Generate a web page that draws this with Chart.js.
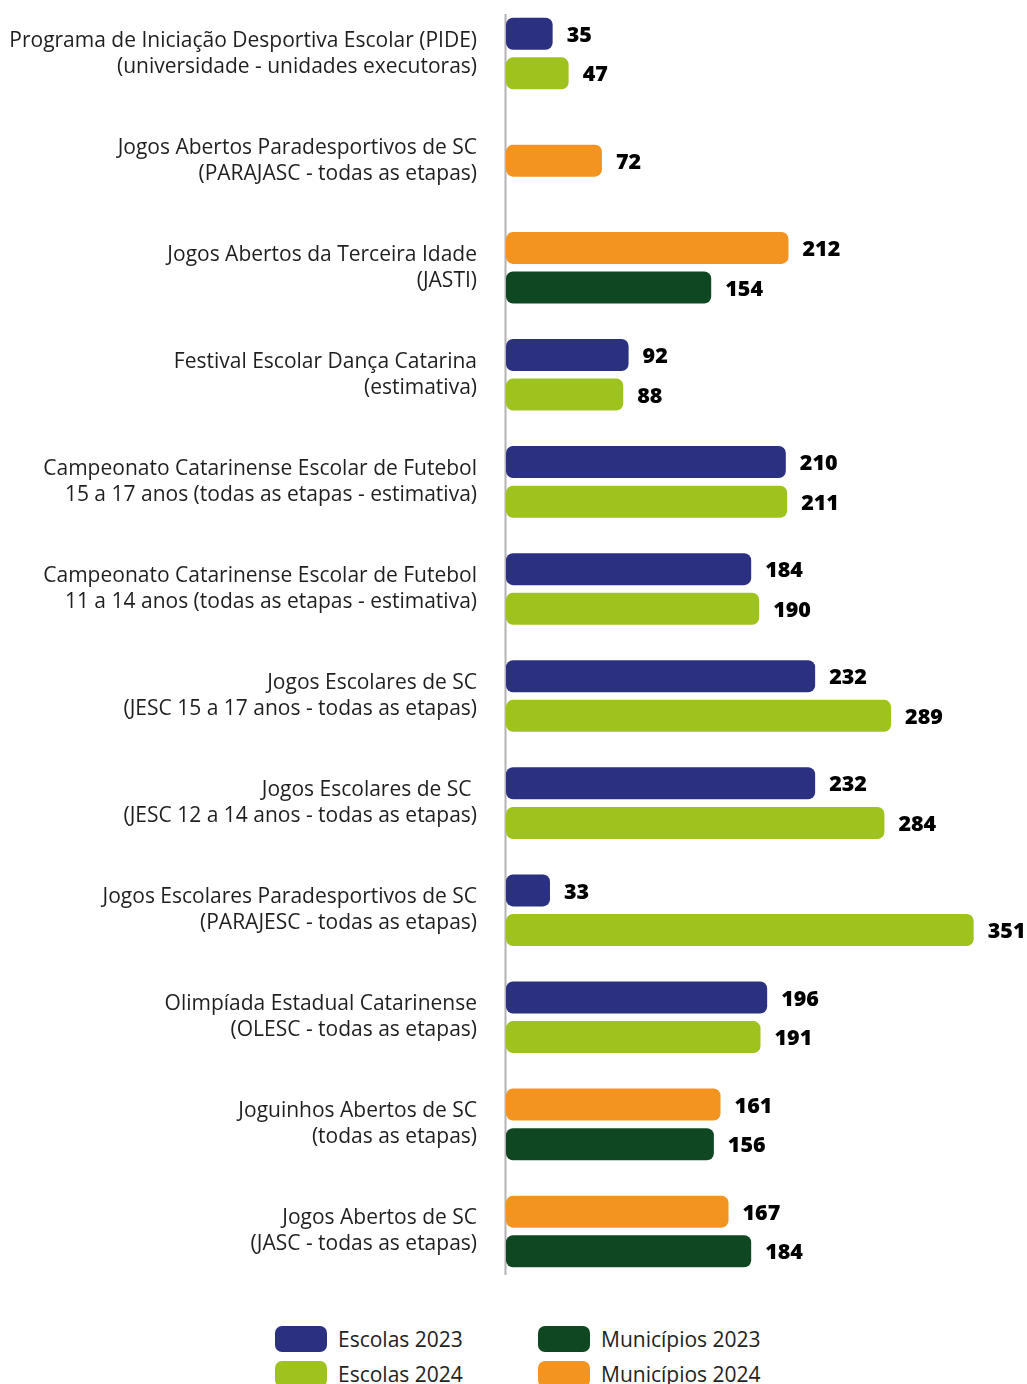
<!DOCTYPE html>
<html>
<head>
<meta charset="utf-8">
<script src="https://cdn.jsdelivr.net/npm/chart.js@4"></script>
<style>
  body { margin: 0; background: #fff; font-family: "Open Sans", sans-serif; }
  #wrap { position: relative; width: 1027px; height: 1285px; }
  #legend {
    margin: 41px 0 0 275px;
    display: grid;
    grid-template-columns: 263px auto;
    row-gap: 9px;
  }
  .item { display: flex; align-items: center; height: 26px; font-size: 21px; color: #222; }
  .box { width: 52px; height: 26px; border-radius: 7px; margin-right: 11px; }
</style>
</head>
<body>
<div id="wrap"><canvas id="myChart"></canvas></div>
<div id="legend"></div>
<script>
//categories (two-line labels)
const categories = [
  ["Programa de Iniciação Desportiva Escolar (PIDE)", "(universidade - unidades executoras)"],
  ["Jogos Abertos Paradesportivos de SC", "(PARAJASC - todas as etapas)"],
  ["Jogos Abertos da Terceira Idade", "(JASTI)"],
  ["Festival Escolar Dança Catarina", "(estimativa)"],
  ["Campeonato Catarinense Escolar de Futebol", "15 a 17 anos (todas as etapas - estimativa)"],
  ["Campeonato Catarinense Escolar de Futebol", "11 a 14 anos (todas as etapas - estimativa)"],
  ["Jogos Escolares de SC", "(JESC 15 a 17 anos - todas as etapas)"],
  ["Jogos Escolares de SC ", "(JESC 12 a 14 anos - todas as etapas)"],
  ["Jogos Escolares Paradesportivos de SC", "(PARAJESC - todas as etapas)"],
  ["Olimpíada Estadual Catarinense", "(OLESC - todas as etapas)"],
  ["Joguinhos Abertos de SC", "(todas as etapas)"],
  ["Jogos Abertos de SC", "(JASC - todas as etapas)"],
];

//series values
const escolas2023 = [35, null, null, 92, 210, 184, 232, 232, 33, 196, null, null];
const escolas2024 = [47, null, null, 88, 211, 190, 289, 284, 351, 191, null, null];
const municipios2024 = [null, 72, 212, null, null, null, null, null, null, null, 161, 167];
const municipios2023 = [null, null, 154, null, null, null, null, null, null, null, 156, 184];

const colors = {
  escolas2023: "#2b3080",
  escolas2024: "#9ec31e",
  municipios2023: "#104723",
  municipios2024: "#f39420",
};

//value labels at bar ends
const barValueLabels = {
  id: "barValueLabels",
  afterDatasetsDraw(chart) {
    const { ctx } = chart;
    ctx.save();
    ctx.font = "800 21.5px 'Open Sans'";
    ctx.fillStyle = "#000";
    ctx.textBaseline = "middle";
    chart.data.datasets.forEach((ds, x) => {
      chart.getDatasetMeta(x).data.forEach((bar, i) => {
        if (ds.data[i] === null) return;
        ctx.fillText(ds.data[i], bar.x + 14, bar.y + 2);
      });
    });
    ctx.restore();
  },
};

//vertical axis line
const axisLine = {
  id: "axisLine",
  beforeDatasetsDraw(chart) {
    const { ctx, chartArea } = chart;
    ctx.save();
    ctx.strokeStyle = "#b3b3b3";
    ctx.lineWidth = 2;
    ctx.beginPath();
    ctx.moveTo(chartArea.left - 0.5, 14);
    ctx.lineTo(chartArea.left - 0.5, 1275);
    ctx.stroke();
    ctx.restore();
  },
};

const barStyle = {
  borderRadius: 7,
  borderSkipped: false,
  categoryPercentage: 0.74,
  barPercentage: 0.81,
  maxBarThickness: 32,
  skipNull: true,
};

var ctx = document.getElementById("myChart").getContext("2d");
var chart = new Chart(ctx, {
  type: "bar",
  data: {
    labels: categories,
    datasets: [
      { label: "Escolas 2023", data: escolas2023, backgroundColor: colors.escolas2023, ...barStyle },
      { label: "Escolas 2024", data: escolas2024, backgroundColor: colors.escolas2024, ...barStyle },
      { label: "Municípios 2024", data: municipios2024, backgroundColor: colors.municipios2024, ...barStyle },
      { label: "Municípios 2023", data: municipios2023, backgroundColor: colors.municipios2023, ...barStyle },
    ],
  },
  options: {
    indexAxis: "y",
    responsive: true,
    maintainAspectRatio: false,
    animation: false,
    layout: { padding: 0 },
    plugins: {
      legend: { display: false },
      tooltip: { enabled: false },
    },
    scales: {
      x: { display: false, min: 0, max: 391 },
      y: {
        afterFit(scale) {
          scale.width = 506;
          scale.paddingTop = 0;
          scale.paddingBottom = 0;
        },
        grid: { display: false, drawTicks: false },
        border: { display: false },
        ticks: {
          padding: 29,
          color: "#1f1f1f",
          font: { family: "Open Sans", size: 21, lineHeight: 1.24 },
        },
      },
    },
  },
  plugins: [axisLine, barValueLabels],
});

//legend (2 x 2 grid)
const legendItems = [
  ["Escolas 2023", colors.escolas2023],
  ["Municípios 2023", colors.municipios2023],
  ["Escolas 2024", colors.escolas2024],
  ["Municípios 2024", colors.municipios2024],
];
document.getElementById("legend").innerHTML = legendItems
  .map(([t, c]) => `<div class="item"><span class="box" style="background:${c}"></span>${t}</div>`)
  .join("");
</script>
</body>
</html>
